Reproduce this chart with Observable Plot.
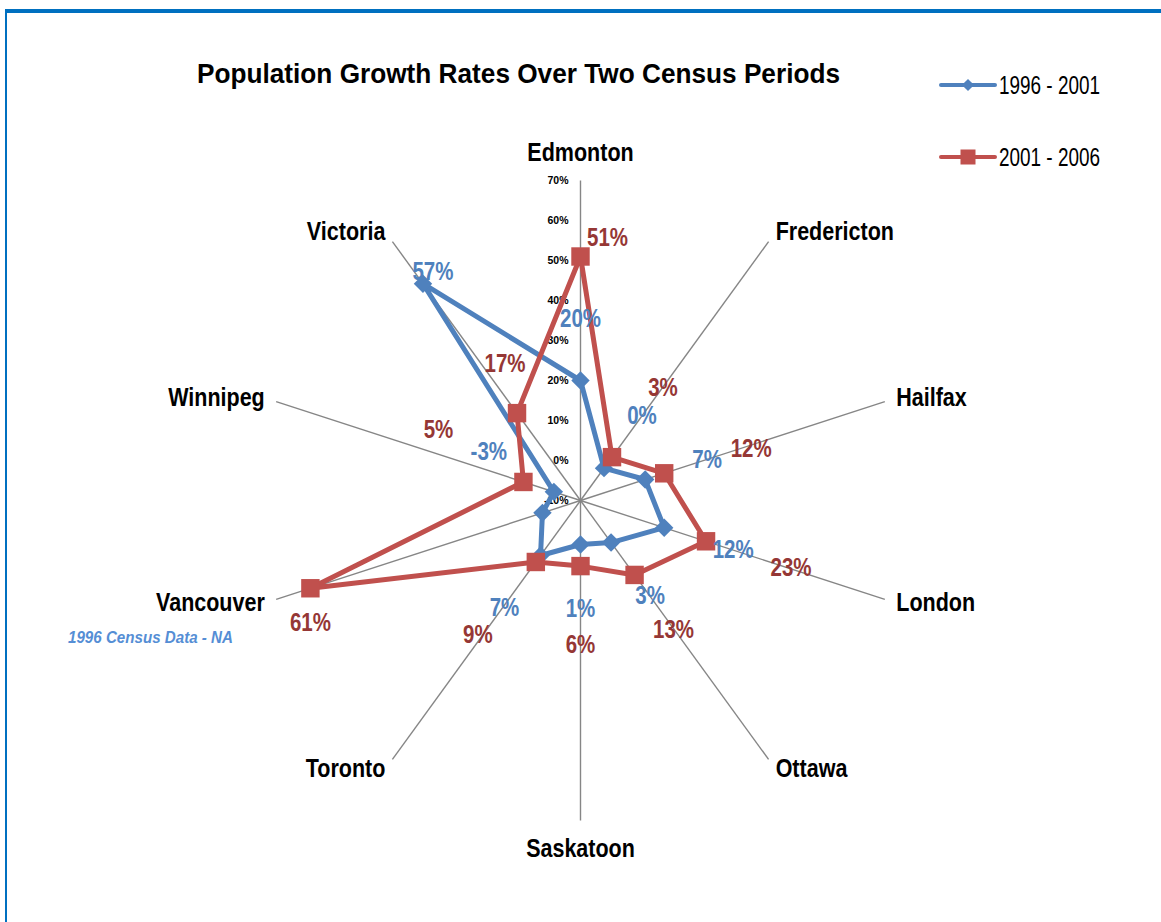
<!DOCTYPE html>
<html>
<head>
<meta charset="utf-8">
<script src="https://cdn.jsdelivr.net/npm/d3@7"></script>
<script src="https://cdn.jsdelivr.net/npm/@observablehq/plot@0.6"></script>
<style>
  html, body { margin: 0; padding: 0; background: #fff; width: 1161px; height: 922px; overflow: hidden; }
  #chart { position: absolute; left: 0; top: 0; }
  #frame { position: absolute; left: 5px; top: 9px; width: 1300px; height: 1100px;
           border-left: 2px solid #0070C0; border-top: 4px solid #0070C0; pointer-events: none; }
  #overlay { position: absolute; left: 0; top: 0; pointer-events: none; }
</style>
</head>
<body>
<div id="chart"></div>
<svg id="overlay" width="1161" height="922"></svg>
<div id="frame"></div>
<script>
// ---------------- DATA ----------------
const chartTitle = "Population Growth Rates Over Two Census Periods";
const cities = ["Edmonton", "Fredericton", "Hailfax", "London", "Ottawa",
                "Saskatoon", "Toronto", "Vancouver", "Winnipeg", "Victoria"];
const periods = ["1996 - 2001", "2001 - 2006"];
// growth rates in percent (null = not available)
const growth1996_2001 = [20, 0, 7, 12, 3, 1, 7, null, -3, 57];
const growth2001_2006 = [51, 3.4, 12, 23, 13, 6.4, 9, 61, 5, 17];
const radialTicks = [-10, 0, 10, 20, 30, 40, 50, 60, 70];
const naNote = "1996 Census Data - NA";

// ---------------- LAYOUT / STYLE ----------------
const W = 1161, H = 922, CX = 580, CY = 500, PX = 4;   // px per percentage point
const RMIN = -10, RMAX = 70;
const FONT = "Liberation Sans, Arial, Helvetica, sans-serif";
const colors = {"1996 - 2001": "#4F81BD", "2001 - 2006": "#C0504D"};
const labelColors = {"1996 - 2001": "#4F81BD", "2001 - 2006": "#953735"};
// data-label offsets from their point (px, screen direction)
const labelNudge = {
  "1996 - 2001": [[0,-62],[38,-52],[62,-19],[69,22],[39,53],[0,64],[-36,52],[0,0],[-65,-40],[10,-12]],
  "2001 - 2006": [[27,-19],[51,-69],[87,-24],[85,27],[39,55],[0,79],[-58,73],[0,35],[-85,-52],[-12,-49]]
};

const step = 360 / cities.length;
const ang = i => i * step * Math.PI / 180;
const polarR = (r, i) => [r * Math.sin(ang(i)), r * Math.cos(ang(i))];
const polar = (v, i) => polarR(v - RMIN, i);

function seriesPoints(values, period) {
  return values.map((v, i) => {
    const [x, y] = polar(v ?? 0, i); // blank values are drawn at 0 (as in the source chart)
    return {city: cities[i], i, period, value: v, x, y};
  });
}
const pts1 = seriesPoints(growth1996_2001, periods[0]);
const pts2 = seriesPoints(growth2001_2006, periods[1]);
const spokes = cities.map((c, i) => { const [x, y] = polar(RMAX, i); return {city: c, x, y}; });
const catLabels = cities.map((c, i) => {
  const s = Math.sin(ang(i));
  const side = s > 0.01 ? "right" : s < -0.01 ? "left" : "vertical";
  const [x, y] = polarR(side === "vertical" ? 87 : 83, i);
  return {city: c, side, x, y};
});
const labelData = (pts) => pts.filter(d => d.value != null).map(d => {
  const [dx, dy] = labelNudge[d.period][d.i];
  return {...d, lx: d.x + dx / PX, ly: d.y - dy / PX, text: `${Math.round(d.value)}%`};
});

const textCommon = {fontFamily: FONT, fontWeight: "bold"};

const svg = Plot.plot({
  width: W, height: H,
  marginTop: 0, marginRight: 0, marginBottom: 0, marginLeft: 0,
  x: {domain: [-CX / PX, (W - CX) / PX], axis: null},
  y: {domain: [-(H - CY) / PX, CY / PX], axis: null},
  style: {background: "transparent", overflow: "visible"},
  marks: [
    Plot.link(spokes, {x1: () => 0, y1: () => 0, x2: "x", y2: "y", stroke: "#868686", strokeWidth: 1.4}),
    Plot.text(radialTicks, {x: () => 0, y: d => d - RMIN, text: d => `${d}%`, textAnchor: "end", dx: -12,
      fontSize: 10.5, fill: "#000", ...textCommon}),
    Plot.line(pts1, {x: "x", y: "y", curve: "linear-closed", stroke: colors[periods[0]], strokeWidth: 5,
      strokeLinejoin: "round"}),
    Plot.dot(pts1, {x: "x", y: "y", symbol: "diamond2", r: 8.3, fill: colors[periods[0]], stroke: "none"}),
    Plot.line(pts2, {x: "x", y: "y", curve: "linear-closed", stroke: colors[periods[1]], strokeWidth: 5,
      strokeLinejoin: "round"}),
    Plot.dot(pts2, {x: "x", y: "y", symbol: "square", r: 10.4, fill: colors[periods[1]], stroke: "none"}),
    Plot.text(labelData(pts1), {x: "lx", y: "ly", text: "text", fill: labelColors[periods[0]], fontSize: 25,
      lineAnchor: "middle", ...textCommon}),
    Plot.text(labelData(pts2), {x: "lx", y: "ly", text: "text", fill: labelColors[periods[1]], fontSize: 25,
      lineAnchor: "middle", ...textCommon}),
    Plot.text(catLabels.filter(d => d.side === "right"), {x: "x", y: "y", text: "city", textAnchor: "start",
      lineAnchor: "middle", fontSize: 25, fill: "#000", ...textCommon}),
    Plot.text(catLabels.filter(d => d.side === "left"), {x: "x", y: "y", text: "city", textAnchor: "end",
      lineAnchor: "middle", fontSize: 25, fill: "#000", ...textCommon}),
    Plot.text(catLabels.filter(d => d.side === "vertical"), {x: "x", y: "y", text: "city", textAnchor: "middle",
      lineAnchor: "middle", fontSize: 25, fill: "#000", ...textCommon})
  ]
});
document.getElementById("chart").append(svg);

// horizontally condense texts (the source uses a narrow rendering)
const squeeze = [1, 0.82, 0.82, 0.86, 0.86, 0.86];
svg.querySelectorAll('g[aria-label="text"]').forEach((g, k) => {
  const f = squeeze[k] ?? 1;
  if (f === 1) return;
  g.querySelectorAll("text").forEach(t => {
    const L = t.getComputedTextLength();
    t.setAttribute("textLength", (L * f).toFixed(1));
    t.setAttribute("lengthAdjust", "spacingAndGlyphs");
  });
});

// ---------------- TITLE, LEGEND, NOTE ----------------
const ov = d3.select("#overlay");
ov.append("text").attr("x", 518.5).attr("y", 83).attr("text-anchor", "middle")
  .attr("font-family", FONT).attr("font-weight", "bold").attr("font-size", 28)
  .attr("textLength", 643).attr("lengthAdjust", "spacingAndGlyphs").text(chartTitle);

periods.forEach((p, k) => {
  const cy = 85 + k * 72;
  const g = ov.append("g");
  g.append("line").attr("x1", 941).attr("x2", 995).attr("y1", cy).attr("y2", cy)
    .attr("stroke", colors[p]).attr("stroke-width", 4).attr("stroke-linecap", "round");
  if (k === 0) {
    g.append("path").attr("d", d3.symbol(d3.symbolDiamond2, 95)()).attr("transform", `translate(968,${cy})`)
      .attr("fill", colors[p]);
  } else {
    g.append("rect").attr("x", 960.5).attr("y", cy - 7.5).attr("width", 15).attr("height", 15).attr("fill", colors[p]);
  }
  g.append("text").attr("x", 999).attr("y", cy + 9).attr("font-family", FONT).attr("font-size", 25)
    .attr("textLength", 101).attr("lengthAdjust", "spacingAndGlyphs").attr("fill", "#000").text(p);
});

ov.append("text").attr("x", 68).attr("y", 643).attr("font-family", FONT).attr("font-weight", "bold")
  .attr("font-style", "italic").attr("font-size", 17).attr("fill", "#558ED5")
  .attr("textLength", 165).attr("lengthAdjust", "spacingAndGlyphs").text(naNote);
</script>
</body>
</html>
